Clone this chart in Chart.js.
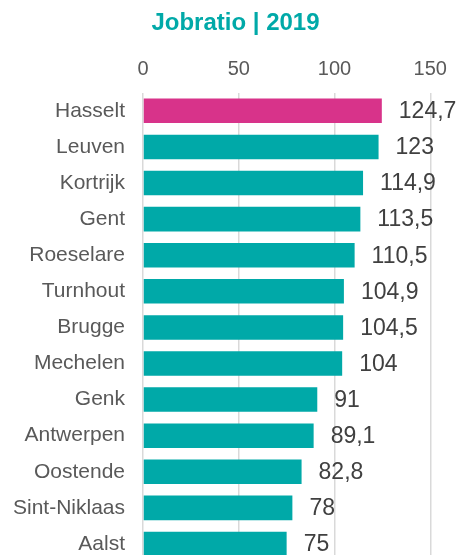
<!DOCTYPE html>
<html>
<head>
<meta charset="utf-8">
<script src="https://cdn.jsdelivr.net/npm/chart.js@4/dist/chart.umd.min.js"></script>
<style>
  html, body { margin: 0; padding: 0; background: #fff; overflow: hidden; height: 555px; }
  #wrap { position: relative; width: 459px; height: 562px; }
</style>
</head>
<body>
<div id="wrap"><canvas id="c"></canvas></div>
<script>
// Jobratio per city, 2019
const cities = ['Hasselt', 'Leuven', 'Kortrijk', 'Gent', 'Roeselare', 'Turnhout', 'Brugge',
                'Mechelen', 'Genk', 'Antwerpen', 'Oostende', 'Sint-Niklaas', 'Aalst'];
const jobratio = [124.7, 123, 114.9, 113.5, 110.5, 104.9, 104.5, 104, 91, 89.1, 82.8, 78, 75];
const xTicks = [0, 50, 100, 150];
const highlightCity = 'Hasselt';

const TEAL = '#00A9A8';
const PINK = '#D8338A';
const FONT = "'Liberation Sans', Arial, sans-serif";

const fmt = v => String(v).replace('.', ',');

// Writes the value to the right of each bar
const valueLabels = {
  id: 'valueLabels',
  afterDatasetsDraw(chart) {
    const ctx = chart.ctx;
    const meta = chart.getDatasetMeta(0);
    ctx.save();
    ctx.font = '23px ' + FONT;
    ctx.fillStyle = '#404040';
    ctx.textAlign = 'left';
    ctx.textBaseline = 'middle';
    meta.data.forEach((bar, i) => {
      ctx.fillText(fmt(chart.data.datasets[0].data[i]), bar.x + 17, bar.y + 1);
    });
    ctx.restore();
  }
};

new Chart(document.getElementById('c'), {
  type: 'bar',
  data: {
    labels: cities,
    datasets: [{
      data: jobratio,
      backgroundColor: cities.map(c => c === highlightCity ? PINK : TEAL),
      borderWidth: 0,
      barPercentage: 0.68,
      categoryPercentage: 1
    }]
  },
  options: {
    indexAxis: 'y',
    responsive: true,
    maintainAspectRatio: false,
    animation: false,
    layout: { padding: { left: 12, right: 0, top: 0, bottom: 0 } },
    plugins: {
      legend: { display: false },
      tooltip: { enabled: false },
      title: {
        display: true,
        text: 'Jobratio | 2019',
        color: TEAL,
        font: { family: FONT, size: 24, weight: 'bold', lineHeight: 1.2 },
        padding: { top: 9, bottom: 9 }
      }
    },
    scales: {
      x: {
        position: 'top',
        min: 0,
        max: 165,
        afterBuildTicks: s => { s.ticks = xTicks.map(v => ({ value: v })); },
        grid: { color: '#D9D9D9', lineWidth: 1.5, drawTicks: false },
        border: { display: false },
        ticks: {
          color: '#595959',
          padding: 11,
          font: { family: FONT, size: 20, lineHeight: 1.2 }
        }
      },
      y: {
        afterFit: s => { s.width = 131; s.paddingTop = 0; s.paddingBottom = 0; },
        grid: { display: false, drawTicks: false },
        border: { display: false },
        ticks: {
          color: '#595959',
          padding: 18,
          font: { family: FONT, size: 21, lineHeight: 1.2 }
        }
      }
    }
  },
  plugins: [valueLabels]
});
</script>
</body>
</html>
